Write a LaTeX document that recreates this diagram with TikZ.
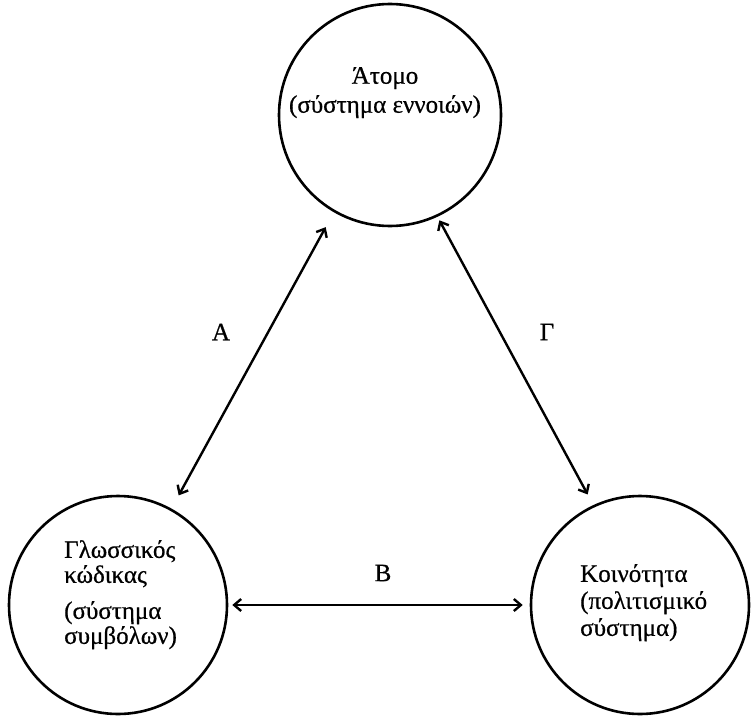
\documentclass[tikz,border=0pt]{standalone}
\usepackage{fontspec}
\setmainfont{Liberation Serif}[FakeBold=0.6]
\usetikzlibrary{arrows.meta}
\begin{document}
\begin{tikzpicture}[x=1pt,y=-1pt,
  circ/.style={circle,draw,line width=2.6pt,minimum size=#1,inner sep=0pt},
  txt/.style={font=\fontsize{25}{#1}\selectfont,inner sep=0pt},
  lbl/.style={font=\fontsize{25}{28}\selectfont,inner sep=0pt},
  tip/.tip={Straight Barb[length=7pt,width=12pt,line width=2.4pt]},
  link/.style={line width=2.4pt,tip-tip}]
\useasboundingbox (0,0) rectangle (751,717);
\node[circ=222pt] (atomo) at (390,115) {};
\node[circ=218pt] (glossa) at (118,605) {};
\node[circ=218pt] (koin) at (640,605) {};
% texts
\node[txt=29pt,align=center,anchor=north] (tatomo) at (385,67) {Άτομο\\(σύστημα εννοιών)};
\node[txt=25pt,align=left,anchor=north west] (tglossa) at (64,540) {Γλωσσικός\\κώδικας\\[11pt](σύστημα\\συμβόλων)};
\node[txt=27pt,align=left,anchor=north west] (tkoin) at (580,564) {Κοινότητα\\(πολιτισμικό\\σύστημα)};
% connectors
\draw[link,shorten <=17pt,shorten >=15pt] (atomo.240) -- (glossa.61);
\draw[link,shorten <=4pt,shorten >=12pt] (atomo.295.5) -- (koin.115.7);
\draw[link,shorten <=4pt,shorten >=7pt] (glossa.0) -- (koin.180);
% labels
\node[lbl] (la) at (221,332) {Α};
\node[lbl] (lg) at (547,332) {Γ};
\node[lbl] (lb) at (383,573) {Β};
\end{tikzpicture}
\end{document}
